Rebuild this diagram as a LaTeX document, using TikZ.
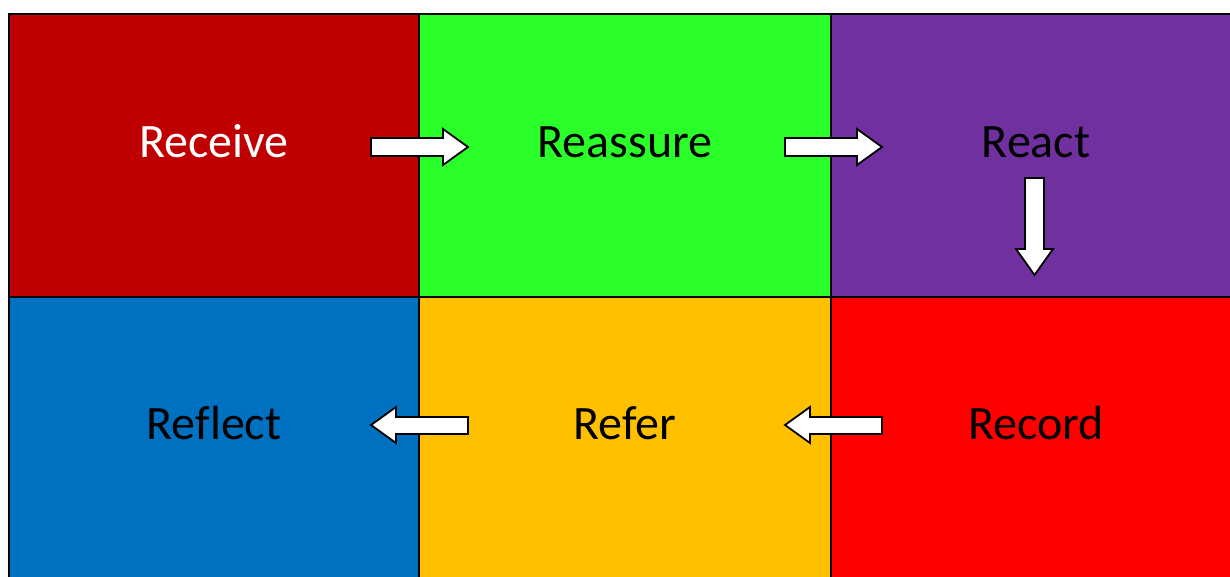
\documentclass[tikz,border=0pt]{standalone}
\usepackage{fontspec}
\setmainfont{Carlito}[Ligatures=NoCommon]
\definecolor{cRecv}{HTML}{C00000}
\definecolor{cReas}{HTML}{2AFF2A}
\definecolor{cReact}{HTML}{7030A0}
\definecolor{cRefl}{HTML}{0070C0}
\definecolor{cRefer}{HTML}{FFC000}
\definecolor{cRec}{HTML}{FF0000}
\tikzset{
  cell/.style={draw=black, line width=2.2pt, rectangle},
  lbl/.style={font=\fontsize{48}{52}\selectfont, anchor=base, inner sep=0pt},
  blockarrow/.style={draw=black, fill=white, line width=1.8pt, line join=miter}
}
\begin{document}
\begin{tikzpicture}[x=1pt, y=-1pt]
\useasboundingbox (0,0) rectangle (1230,576);
\clip (0,0) rectangle (1230,576);
% cells
\path[cell, fill=cRecv]  (9,14)   rectangle (419,297);
\path[cell, fill=cReas]  (419,14) rectangle (831,297);
\path[cell, fill=cReact] (831,14) rectangle (1245,297);
\path[cell, fill=cRefl]  (9,297)  rectangle (419,600);
\path[cell, fill=cRefer] (419,297) rectangle (831,600);
\path[cell, fill=cRec]   (831,297) rectangle (1245,600);
% labels
\node[lbl, text=white] (receive) at (214,157) {Receive};
\node[lbl] (reassure) at (625,157) {Reassure};
\node[lbl] (react) at (1036,157) {React};
\node[lbl] (reflect) at (214,439) {Reflect};
\node[lbl] (refer) at (625,439) {Refer};
\node[lbl] (record) at (1036,439) {Record};
% block arrows
\draw[blockarrow] (371,138) -- (443,138) -- (443,129) -- (468,147) -- (443,165) -- (443,156) -- (371,156) -- cycle;
\draw[blockarrow] (785,138) -- (857,138) -- (857,129) -- (882,147) -- (857,165) -- (857,156) -- (785,156) -- cycle;
\draw[blockarrow] (1025,178) -- (1044,178) -- (1044,249) -- (1053,249) -- (1034.5,275) -- (1016,249) -- (1025,249) -- cycle;
\draw[blockarrow] (468,417) -- (396,417) -- (396,407) -- (371,425) -- (396,443) -- (396,434) -- (468,434) -- cycle;
\draw[blockarrow] (882,417) -- (810,417) -- (810,407) -- (785,425) -- (810,443) -- (810,434) -- (882,434) -- cycle;
\end{tikzpicture}
\end{document}
